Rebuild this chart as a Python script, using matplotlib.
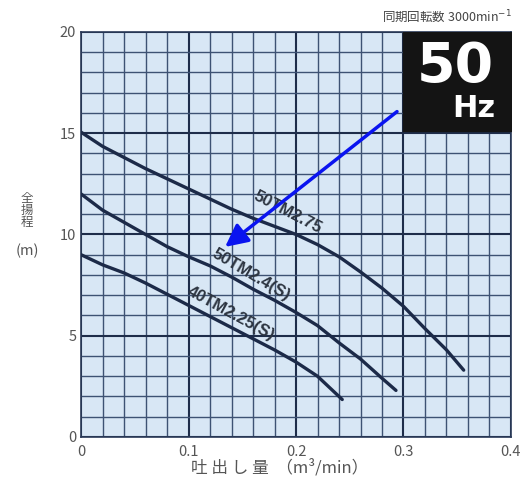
import numpy as np
import matplotlib.pyplot as plt
from matplotlib.ticker import MultipleLocator, FuncFormatter

plt.rcParams['font.family'] = ['Noto Sans CJK JP', 'DejaVu Sans']

# curve data (flow m3/min, head m)
q_275 = [0.0, 0.02, 0.04, 0.06, 0.08, 0.10, 0.12, 0.14, 0.16, 0.18, 0.20,
         0.22, 0.24, 0.26, 0.28, 0.30, 0.32, 0.34, 0.356]
h_275 = [15.05, 14.35, 13.8, 13.25, 12.75, 12.25, 11.75, 11.25, 10.8, 10.4, 10.0,
         9.5, 8.9, 8.15, 7.35, 6.45, 5.35, 4.3, 3.3]

q_24 = [0.0, 0.02, 0.04, 0.06, 0.08, 0.10, 0.12, 0.14, 0.16, 0.18, 0.20,
        0.22, 0.24, 0.26, 0.28, 0.293]
h_24 = [12.0, 11.2, 10.6, 10.0, 9.4, 8.9, 8.45, 7.9, 7.3, 6.75, 6.15,
        5.5, 4.65, 3.85, 2.9, 2.3]

q_225 = [0.0, 0.02, 0.04, 0.06, 0.08, 0.10, 0.12, 0.14, 0.16, 0.18, 0.20,
         0.22, 0.243]
h_225 = [9.0, 8.5, 8.1, 7.6, 7.05, 6.5, 5.95, 5.4, 4.85, 4.3, 3.7,
         3.0, 1.85]

labels = ['50TM2.75', '50TM2.4(S)', '40TM2.25(S)']
label_pos = [(0.192, 11.1), (0.158, 8.0), (0.139, 6.1)]
label_rot = [-27.5, -30.5, -28.5]

fig = plt.figure(figsize=(5.23, 4.91), dpi=100)
ax = fig.add_axes([0.155, 0.110, 0.822, 0.825])
ax.set_facecolor('#d8e7f5')

ax.set_xlim(0, 0.4)
ax.set_ylim(0, 20)
ax.xaxis.set_major_locator(MultipleLocator(0.1))
ax.yaxis.set_major_locator(MultipleLocator(5))
ax.xaxis.set_minor_locator(MultipleLocator(0.02))
ax.yaxis.set_minor_locator(MultipleLocator(1))
ax.xaxis.set_major_formatter(FuncFormatter(lambda v, p: '0' if abs(v) < 1e-9 else f'{v:.1f}'))
ax.grid(which='minor', color='#3d5273', lw=1.0)
ax.grid(which='major', color='#1e2d4a', lw=1.5)
ax.set_axisbelow(True)
ax.tick_params(which='both', length=0, labelsize=10.5, labelcolor='#555555')
ax.tick_params(axis='x', pad=6)
for s in ax.spines.values():
    s.set_color('#2a3a58')
    s.set_linewidth(1.2)

for q, h in [(q_275, h_275), (q_24, h_24), (q_225, h_225)]:
    ax.plot(q, h, color='#1c2a48', lw=2.4, solid_capstyle='round', zorder=3)

for t, (x, y), r in zip(labels, label_pos, label_rot):
    ax.text(x, y, t, rotation=r, ha='center', va='center', fontsize=12,
            fontweight='bold', color='#2c3440', family='Liberation Sans', zorder=4)

# 50Hz badge
ax.fill_between([0.3, 0.4], 15.1, 20, color='#141414', zorder=5)
ax.text(0.348, 18.25, '50', color='white', fontsize=40, fontweight='bold',
        ha='center', va='center', family='DejaVu Sans', zorder=6)
ax.text(0.365, 16.22, 'Hz', color='white', fontsize=22, fontweight='bold',
        ha='center', va='center', family='DejaVu Sans', zorder=6)

# blue arrow
ax.annotate('', xy=(0.132, 9.3), xytext=(0.296, 16.15),
            arrowprops=dict(arrowstyle='-|>', color='#0a14f0', lw=2.5,
                            mutation_scale=34), zorder=7)

ax.set_xlabel('吐 出 し 量  （m³/min）', fontsize=12, color='#555555', labelpad=1)
ax.xaxis.set_label_coords(0.463, -0.055)
fig.text(0.052, 0.572, '全\n揚\n程', fontsize=9, color='#555555', ha='center',
         va='center', linespacing=0.9)
fig.text(0.053, 0.488, '(m)', fontsize=10.5, color='#555555', ha='center', va='center')
fig.text(0.978, 0.967, '同期回転数 3000min$^{-1}$', fontsize=9, color='#444444',
         ha='right', va='center')

fig.savefig('out.png', dpi=100)
